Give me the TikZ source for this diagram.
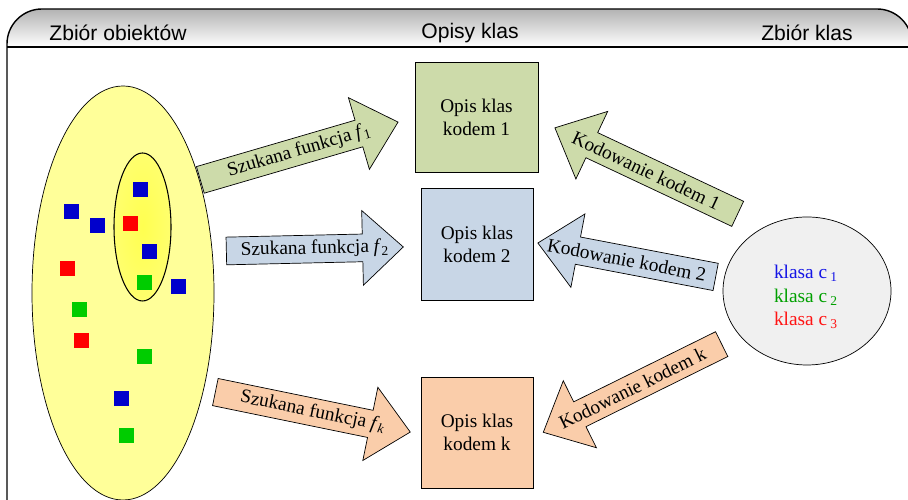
\documentclass[tikz,border=0pt]{standalone}
\usepackage{fontspec}
\setmainfont{Liberation Serif}
\newfontfamily\headfont{Liberation Sans}
\usetikzlibrary{shapes.arrows,shapes.geometric,calc}

\definecolor{olivebox}{RGB}{205,219,170}
\definecolor{bluebox}{RGB}{200,214,230}
\definecolor{peachbox}{RGB}{250,205,170}
\definecolor{setyellow}{RGB}{255,255,153}
\definecolor{subyellow}{RGB}{255,255,80}
\definecolor{classgrey}{RGB}{240,240,240}
\definecolor{objblue}{RGB}{0,0,204}
\definecolor{objred}{RGB}{255,0,0}
\definecolor{objgreen}{RGB}{0,204,0}
\definecolor{txtblue}{RGB}{20,20,230}
\definecolor{txtgreen}{RGB}{0,160,0}
\definecolor{txtred}{RGB}{255,20,20}

\tikzset{
  heading/.style={font=\headfont\fontsize{12}{14}\selectfont},
  opis/.style={draw, thin, align=center, inner sep=0pt, font=\fontsize{11}{13}\selectfont},
  obj/.style={minimum size=0.3cm, inner sep=0pt},
  fatarrow/.style={single arrow, draw, thin, inner xsep=0pt, inner ysep=0.27cm, anchor=tail,
    single arrow head extend=0.47cm, single arrow tip angle=85},
  arrowtext/.style={font=\fontsize{11}{13}\selectfont, inner sep=0pt}
}

\begin{document}
\begin{tikzpicture}
  \useasboundingbox (0,0) rectangle (18.16,10);
  % ramka z naglowkiem
  \begin{scope}
    \clip[rounded corners=0.7cm] (0.14,-1) rectangle (18.24,9.82);
    \shade[top color=black!30, bottom color=white] (0.14,9.06) rectangle (18.24,9.82);
  \end{scope}
  \draw[line width=0.8pt, rounded corners=0.7cm] (0.14,-1) rectangle (18.24,9.82);
  \draw[line width=0.8pt] (0.14,9.06) -- (18.24,9.06);
  \node[heading] (hobj) at (2.36,9.34) {Zbiór obiektów};
  \node[heading] (hopis) at (9.40,9.34) {Opisy klas};
  \node[heading] (hklas) at (16.14,9.34) {Zbiór klas};

  % zbior obiektow
  \node[draw, ellipse, fill=setyellow, inner sep=0pt, minimum width=3.64cm, minimum height=8.28cm] (obiekty) at (2.46,4.14) {};
  \node[draw, semithick, ellipse, inner color=subyellow, outer color=subyellow!60!setyellow, inner sep=0pt, minimum width=1.14cm, minimum height=2.96cm] (podzbior) at (2.85,5.46) {};
  \node[obj, fill=objblue]  (s1)  at (2.80,6.20) {};
  \node[obj, fill=objblue]  (s2)  at (1.42,5.76) {};
  \node[obj, fill=objblue]  (s3)  at (1.94,5.48) {};
  \node[obj, fill=objred]   (s4)  at (2.60,5.52) {};
  \node[obj, fill=objblue]  (s5)  at (2.98,4.96) {};
  \node[obj, fill=objred]   (s6)  at (1.34,4.62) {};
  \node[obj, fill=objgreen] (s7)  at (2.88,4.34) {};
  \node[obj, fill=objblue]  (s8)  at (3.56,4.26) {};
  \node[obj, fill=objgreen] (s9)  at (1.58,3.80) {};
  \node[obj, fill=objred]   (s10) at (1.62,3.18) {};
  \node[obj, fill=objgreen] (s11) at (2.88,2.86) {};
  \node[obj, fill=objblue]  (s12) at (2.42,2.02) {};
  \node[obj, fill=objgreen] (s13) at (2.52,1.28) {};

  % opisy klas
  \node[opis, fill=olivebox, minimum width=2.46cm, minimum height=2.2cm] (opis1) at (9.53,7.66) {Opis klas\\kodem 1};
  \node[opis, fill=bluebox, minimum width=2.24cm, minimum height=2.24cm] (opis2) at (9.54,5.12) {Opis klas\\kodem 2};
  \node[opis, fill=peachbox, minimum width=2.24cm, minimum height=2.22cm] (opisk) at (9.54,1.35) {Opis klas\\kodem k};

  % zbior klas
  \node[draw, ellipse, fill=classgrey, inner sep=0pt, minimum width=3.36cm, minimum height=2.96cm] (klasy) at (16.14,4.18) {};
  \node[align=center, inner sep=0pt, font=\fontsize{11}{13.4}\selectfont] (klasytxt) at (16.12,4.06)
    {\textcolor{txtblue}{klasa c\,\textsubscript{1}}\\
     \textcolor{txtgreen}{klasa c\,\textsubscript{2}}\\
     \textcolor{txtred}{klasa c\,\textsubscript{3}}};

  % szukane funkcje
  \coordinate (t1) at (4.00,6.40);
  \coordinate (t2) at (4.52,4.98);
  \coordinate (tk) at (4.30,2.16);
  \node[fatarrow, fill=olivebox, rotate=16.3, minimum height=4.12cm] (szuk1) at (t1) {};
  \node[fatarrow, fill=bluebox, rotate=1.3, minimum height=3.54cm] (szuk2) at (t2) {};
  \node[fatarrow, fill=peachbox, rotate=-11.6, minimum height=3.98cm] (szukk) at (tk) {};
  \node[arrowtext, rotate=16.3] at ($(szuk1.tail)!0.5!(szuk1.tip)$) {Szukana funkcja \textit{f}\textsubscript{1}};
  \node[arrowtext, rotate=1.3] at ($(szuk2.tail)!0.5!(szuk2.tip)$) {Szukana funkcja \textit{f}\textsubscript{2}};
  \node[arrowtext, rotate=-11.6] at ($(szukk.tail)!0.5!(szukk.tip)$) {Szukana funkcja \textit{f}\textsubscript{\textit{k}}};

  % kodowanie
  \coordinate (c1) at (14.76,5.72);
  \coordinate (c2) at (14.32,4.46);
  \coordinate (ck) at (14.44,3.12);
  \node[fatarrow, fill=olivebox, rotate=154.8, minimum height=4.04cm] (kod1) at (c1) {};
  \node[fatarrow, fill=bluebox, rotate=169.2, minimum height=3.62cm] (kod2) at (c2) {};
  \node[fatarrow, fill=peachbox, rotate=206.3, minimum height=3.98cm] (kodk) at (ck) {};
  \node[arrowtext, rotate=-25.2] at ($(kod1.tail)!0.5!(kod1.tip)$) {Kodowanie kodem 1};
  \node[arrowtext, rotate=-10.8] at ($(kod2.tail)!0.5!(kod2.tip)$) {Kodowanie kodem 2};
  \node[arrowtext, rotate=26.3] at ($(kodk.tail)!0.5!(kodk.tip)$) {Kodowanie kodem k};
\end{tikzpicture}
\end{document}
